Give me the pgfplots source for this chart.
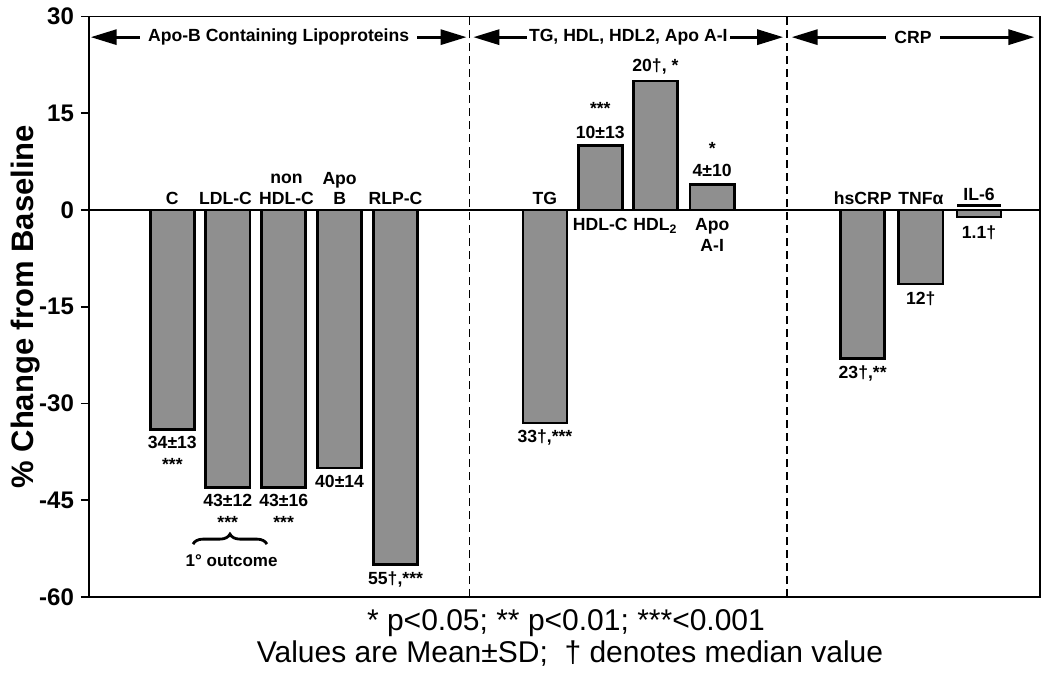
\documentclass[border=0pt]{standalone}
\usepackage{fontspec}
\setmainfont{Liberation Sans}
\usepackage{pgfplots}
\pgfplotsset{compat=1.18}
\usetikzlibrary{arrows.meta,decorations.pathreplacing}
\definecolor{barfill}{RGB}{143,143,143}
\tikzset{lab/.style={font=\bfseries\fontsize{8.8}{10.3}\selectfont, align=center, inner sep=1.5pt}}
\pgfplotstableread{
x y
1.49 -34
2.48 -43
3.48 -43
4.48 -40
5.48 -55
8.15 -33
9.14 10
10.125 20
11.14 4
13.83 -23
14.87 -11.5
15.91 -1.1
}\bardata
\begin{document}
\begin{tikzpicture}
\path[use as bounding box] (0,0) rectangle (525pt,338.5pt);
\begin{axis}[
 at={(44.5pt,40pt)}, anchor=south west,
 width=475.5pt, height=290.25pt, scale only axis,
 xmin=0, xmax=17, ymin=-60, ymax=30,
 xtick=\empty, ytick={-60,-45,...,30},
 ytick pos=left, tick align=outside, major tick length=4pt,
 /pgf/number format/assume math mode=true,
 yticklabel style={font=\bfseries\fontsize{12}{14}\selectfont},
 ylabel={\% Change from Baseline},
 every axis y label/.style={at={(axis description cs:-0.0665,0.5)}, rotate=90, anchor=center,
   font=\bfseries\fontsize{15.5}{17}\selectfont},
 axis line style={line width=0.9pt},
 every tick/.style={line width=0.9pt, black},
 clip=false,
]
\addplot[ybar, bar width=0.79, fill=barfill, draw=black, line width=1.3pt] table[x=x,y=y] {\bardata};
\draw[line width=0.9pt] (axis cs:0,0) -- (axis cs:17,0);
\draw[line width=0.9pt, dash pattern=on 4pt off 2.5pt] (axis cs:6.80,-60) -- (axis cs:6.80,30);
\draw[line width=0.9pt, dash pattern=on 4pt off 2.5pt] (axis cs:12.48,-60) -- (axis cs:12.48,30);
% group arrows
\draw[{Triangle[length=13pt,width=7.5pt]}-{Triangle[length=13pt,width=7.5pt]}, line width=1.5pt]
 (axis cs:0.03,26.8) -- (axis cs:6.75,26.8)
 node[midway, fill=white, lab, inner sep=4pt] {Apo-B Containing Lipoproteins};
\draw[{Triangle[length=13pt,width=7.5pt]}-{Triangle[length=13pt,width=7.5pt]}, line width=1.5pt]
 (axis cs:6.87,26.8) -- (axis cs:12.41,26.8)
 node[midway, fill=white, lab, inner sep=1pt] {TG, HDL, HDL2, Apo A-I};
\draw[{Triangle[length=13pt,width=7.5pt]}-{Triangle[length=13pt,width=7.5pt]}, line width=1.5pt]
 (axis cs:12.56,26.8) -- (axis cs:16.9,26.8)
 node[midway, fill=white, lab, inner sep=4pt] {CRP};
% category labels above zero
\node[lab, anchor=south] at (axis cs:1.49,0.3) {C};
\node[lab, anchor=south] at (axis cs:2.44,0.3) {LDL-C};
\node[lab, anchor=south] at (axis cs:3.53,0.3) {non\\HDL-C};
\node[lab, anchor=south] at (axis cs:4.48,0.3) {Apo\\B};
\node[lab, anchor=south] at (axis cs:5.48,0.3) {RLP-C};
\node[lab, anchor=south] at (axis cs:8.15,0.3) {TG};
\node[lab, anchor=south] at (axis cs:13.83,0.3) {hsCRP};
\node[lab, anchor=south] at (axis cs:14.87,0.3) {TNFα};
\node[lab, anchor=south] at (axis cs:15.91,0.9) {IL-6};
\draw[line width=1.1pt] (axis cs:15.52,0.7) -- (axis cs:16.30,0.7);
% category labels below zero for positive bars
\node[lab, anchor=north] at (axis cs:9.14,-0.8) {HDL-C};
\node[lab, anchor=north] at (axis cs:10.125,-0.8) {HDL\textsubscript{2}};
\node[lab, anchor=north] at (axis cs:11.14,-0.8) {Apo\\A-I};
% value labels
\node[lab, anchor=north] at (axis cs:1.49,-34.6) {34±13};
\node[lab] at (axis cs:1.49,-39.4) {***};
\node[lab, anchor=north] at (axis cs:2.48,-43.6) {43±12};
\node[lab] at (axis cs:2.48,-48.5) {***};
\node[lab, anchor=north] at (axis cs:3.48,-43.6) {43±16};
\node[lab] at (axis cs:3.48,-48.5) {***};
\node[lab, anchor=north] at (axis cs:4.48,-40.6) {40±14};
\node[lab, anchor=north] at (axis cs:5.48,-55.6) {55†,***};
\node[lab, anchor=north] at (axis cs:8.15,-33.6) {33†,***};
\node[lab, anchor=north] at (axis cs:13.83,-23.6) {23†,**};
\node[lab, anchor=north] at (axis cs:14.87,-12.1) {12†};
\node[lab, anchor=north] at (axis cs:15.91,-1.9) {1.1†};
\node[lab, anchor=south] at (axis cs:9.14,10.6) {10±13};
\node[lab] at (axis cs:9.14,15.8) {***};
\node[lab, anchor=south] at (axis cs:10.125,20.6) {20†, *};
\node[lab, anchor=south] at (axis cs:11.14,4.6) {4±10};
\node[lab] at (axis cs:11.14,9.6) {*};
% brace
\draw[decorate, decoration={brace, amplitude=5pt}, line width=1.4pt]
 (axis cs:1.86,-51.8) -- (axis cs:3.18,-51.8);
\node[lab, font=\bfseries\fontsize{8.5}{10}\selectfont] at (axis cs:2.55,-54.3) {1° outcome};
\end{axis}
\node[anchor=base, font=\fontsize{15}{17}\selectfont, inner sep=0pt] at (283pt,23.5pt) {* p<0.05; ** p<0.01; ***<0.001};
\node[anchor=base, font=\fontsize{15}{17}\selectfont, inner sep=0pt] at (285pt,7.5pt) {Values are Mean±SD;\ \ † denotes median value};
\end{tikzpicture}
\end{document}
